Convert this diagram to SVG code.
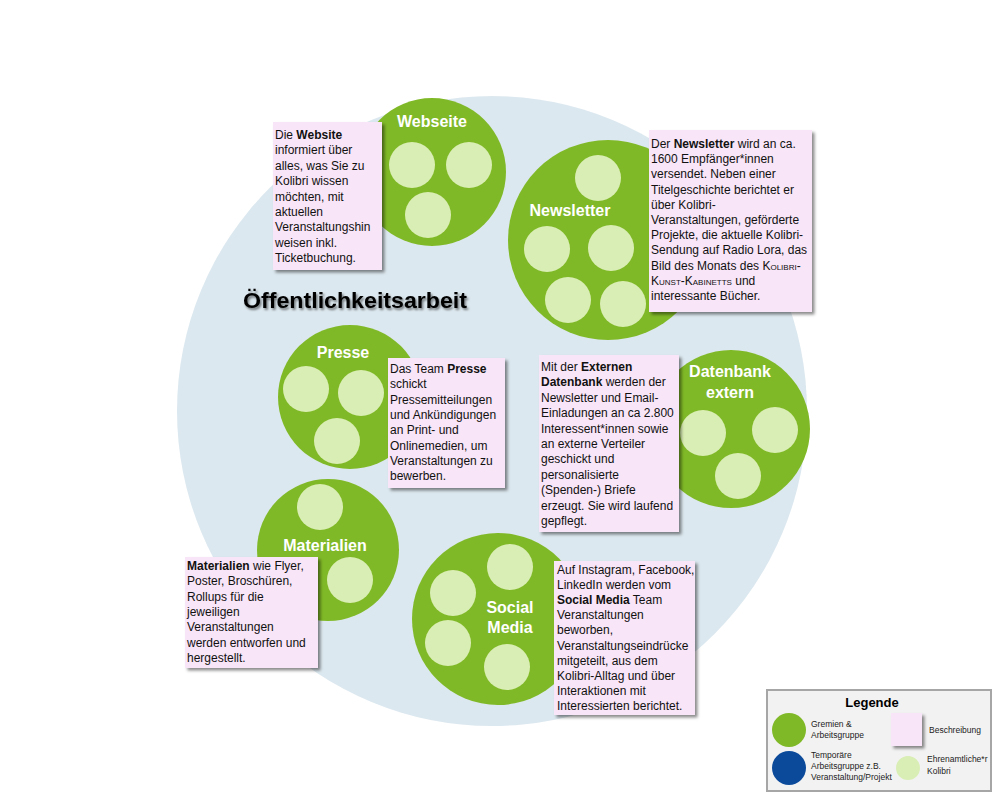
<svg xmlns="http://www.w3.org/2000/svg" width="1000" height="800" viewBox="0 0 1000 800">
<style>
.bg{fill:#dce8ef}
.grp{fill:#80b927}
.vol{fill:#d9eeb4}
.lbl{font-family:"Liberation Sans",Arial,sans-serif;font-weight:bold;font-size:16px;fill:#ffffff;text-anchor:middle}
.box{fill:#f8e5f7;filter:url(#sh)}
.t{font-family:"Liberation Sans",Arial,sans-serif;font-size:12px;fill:#111111}
.b{font-weight:bold}
.sc{font-variant:small-caps}
.lg{font-family:"Liberation Sans",Arial,sans-serif;font-size:8.5px;fill:#222222}
</style>
<defs>
<filter id="sh" x="-10%" y="-10%" width="130%" height="130%">
<feDropShadow dx="2.5" dy="2.5" stdDeviation="1.5" flood-color="#000000" flood-opacity="0.45"/>
</filter>
<filter id="tsh" x="-5%" y="-30%" width="115%" height="170%">
<feDropShadow dx="1.5" dy="2" stdDeviation="1.2" flood-color="#000000" flood-opacity="0.5"/>
</filter>
</defs>
<rect width="1000" height="800" fill="#ffffff"/>
<circle class="bg" cx="492" cy="411" r="315"/>
<text id="title" x="243" y="308" font-family="'Liberation Sans',Arial,sans-serif" font-weight="bold" font-size="22" textLength="224" lengthAdjust="spacingAndGlyphs" fill="#000000" filter="url(#tsh)">Öffentlichkeitsarbeit</text>

<g id="webseite">
<circle class="grp" cx="432" cy="172" r="74"/>
<circle class="vol" cx="412" cy="165" r="23"/>
<circle class="vol" cx="469" cy="165" r="23"/>
<circle class="vol" cx="428" cy="215" r="23"/>
<text class="lbl" x="432" y="127">Webseite</text>
</g>
<g id="newsletter">
<circle class="grp" cx="608" cy="240" r="100"/>
<circle class="vol" cx="598" cy="178" r="23"/>
<circle class="vol" cx="547" cy="249" r="23"/>
<circle class="vol" cx="611" cy="248" r="23"/>
<circle class="vol" cx="568" cy="300" r="23"/>
<circle class="vol" cx="623" cy="304" r="23"/>
<text class="lbl" x="570" y="216">Newsletter</text>
</g>
<g id="presse">
<circle class="grp" cx="350" cy="397" r="72"/>
<circle class="vol" cx="306" cy="389" r="23"/>
<circle class="vol" cx="361" cy="393" r="23"/>
<circle class="vol" cx="337" cy="441" r="23"/>
<text class="lbl" x="343" y="358">Presse</text>
</g>
<g id="datenbank">
<circle class="grp" cx="731" cy="429" r="79"/>
<circle class="vol" cx="703" cy="433" r="23"/>
<circle class="vol" cx="775" cy="430" r="23"/>
<circle class="vol" cx="738" cy="476" r="23"/>
<text class="lbl" x="730" y="377">Datenbank</text>
<text class="lbl" x="730" y="398">extern</text>
</g>
<g id="materialien">
<circle class="grp" cx="328" cy="550" r="71"/>
<circle class="vol" cx="320" cy="507" r="23"/>
<circle class="vol" cx="350" cy="580" r="23"/>
<text class="lbl" x="325" y="551">Materialien</text>
</g>
<g id="socialmedia">
<circle class="grp" cx="498" cy="619" r="86"/>
<circle class="vol" cx="510" cy="567" r="23"/>
<circle class="vol" cx="453" cy="593" r="23"/>
<circle class="vol" cx="448" cy="643" r="23"/>
<circle class="vol" cx="507" cy="667" r="23"/>
<text class="lbl" x="510" y="613">Social</text>
<text class="lbl" x="510" y="633">Media</text>
</g>

<g id="desc-webseite">
<rect class="box" x="273" y="122" width="109" height="148"/>
<text class="t" x="275" y="139">Die <tspan class="b">Website</tspan></text>
<text class="t" x="275" y="154.4">informiert über</text>
<text class="t" x="275" y="169.8">alles, was Sie zu</text>
<text class="t" x="275" y="185.2">Kolibri wissen</text>
<text class="t" x="275" y="200.6">möchten, mit</text>
<text class="t" x="275" y="216">aktuellen</text>
<text class="t" x="275" y="231.4">Veranstaltungshin</text>
<text class="t" x="275" y="246.8">weisen inkl.</text>
<text class="t" x="275" y="262.2">Ticketbuchung.</text>
</g>
<g id="desc-newsletter">
<rect class="box" x="649" y="130" width="163" height="182"/>
<text class="t" x="651" y="148">Der <tspan class="b">Newsletter</tspan> wird an ca.</text>
<text class="t" x="651" y="163.2">1600 Empfänger*innen</text>
<text class="t" x="651" y="178.4">versendet. Neben einer</text>
<text class="t" x="651" y="193.6">Titelgeschichte berichtet er</text>
<text class="t" x="651" y="208.8">über Kolibri-</text>
<text class="t" x="651" y="224">Veranstaltungen, geförderte</text>
<text class="t" x="651" y="239.2">Projekte, die aktuelle Kolibri-</text>
<text class="t" x="651" y="254.4">Sendung auf Radio Lora, das</text>
<text class="t" x="651" y="269.6">Bild des Monats des <tspan class="sc">Kolibri-</tspan></text>
<text class="t" x="651" y="284.8"><tspan class="sc">Kunst-Kabinetts</tspan> und</text>
<text class="t" x="651" y="300">interessante Bücher.</text>
</g>
<g id="desc-presse">
<rect class="box" x="388" y="358" width="117" height="130"/>
<text class="t" x="390" y="373">Das Team <tspan class="b">Presse</tspan></text>
<text class="t" x="390" y="388.3">schickt</text>
<text class="t" x="390" y="403.6">Pressemitteilungen</text>
<text class="t" x="390" y="418.9">und Ankündigungen</text>
<text class="t" x="390" y="434.2">an Print- und</text>
<text class="t" x="390" y="449.5">Onlinemedien, um</text>
<text class="t" x="390" y="464.8">Veranstaltungen zu</text>
<text class="t" x="390" y="480.1">bewerben.</text>
</g>
<g id="desc-datenbank">
<rect class="box" x="539" y="355" width="140" height="177"/>
<text class="t" x="541" y="371">Mit der <tspan class="b">Externen</tspan></text>
<text class="t" x="541" y="386.4"><tspan class="b">Datenbank</tspan> werden der</text>
<text class="t" x="541" y="401.8">Newsletter und Email-</text>
<text class="t" x="541" y="417.2">Einladungen an ca 2.800</text>
<text class="t" x="541" y="432.6">Interessent*innen sowie</text>
<text class="t" x="541" y="448">an externe Verteiler</text>
<text class="t" x="541" y="463.4">geschickt und</text>
<text class="t" x="541" y="478.8">personalisierte</text>
<text class="t" x="541" y="494.2">(Spenden-) Briefe</text>
<text class="t" x="541" y="509.6">erzeugt. Sie wird laufend</text>
<text class="t" x="541" y="525">gepflegt.</text>
</g>
<g id="desc-materialien">
<rect class="box" x="185" y="557" width="133" height="111"/>
<text class="t" x="187" y="570"><tspan class="b">Materialien</tspan> wie Flyer,</text>
<text class="t" x="187" y="585.3">Poster, Broschüren,</text>
<text class="t" x="187" y="600.6">Rollups für die</text>
<text class="t" x="187" y="615.9">jeweiligen</text>
<text class="t" x="187" y="631.2">Veranstaltungen</text>
<text class="t" x="187" y="646.5">werden entworfen und</text>
<text class="t" x="187" y="661.8">hergestellt.</text>
</g>
<g id="desc-socialmedia">
<rect class="box" x="554" y="561" width="141" height="154"/>
<text class="t" x="557" y="574">Auf Instagram, Facebook,</text>
<text class="t" x="557" y="589.1">LinkedIn werden vom</text>
<text class="t" x="557" y="604.2"><tspan class="b">Social Media</tspan> Team</text>
<text class="t" x="557" y="619.3">Veranstaltungen</text>
<text class="t" x="557" y="634.4">beworben,</text>
<text class="t" x="557" y="649.5">Veranstaltungseindrücke</text>
<text class="t" x="557" y="664.6">mitgeteilt, aus dem</text>
<text class="t" x="557" y="679.7">Kolibri-Alltag und über</text>
<text class="t" x="557" y="694.8">Interaktionen mit</text>
<text class="t" x="557" y="709.9">Interessierten berichtet.</text>
</g>

<g id="legend">
<rect x="767" y="690" width="224" height="101" fill="#f2f2f2" stroke="#a6a6a6" stroke-width="2"/>
<text x="872" y="707" text-anchor="middle" font-family="'Liberation Sans',Arial,sans-serif" font-weight="bold" font-size="13" fill="#000000">Legende</text>
<circle class="grp" cx="789" cy="730" r="17"/>
<text class="lg" x="811" y="727">Gremien &amp;</text>
<text class="lg" x="811" y="738">Arbeitsgruppe</text>
<circle cx="789" cy="768" r="17" fill="#0b4a9b"/>
<text class="lg" x="811" y="758">Temporäre</text>
<text class="lg" x="811" y="769">Arbeitsgruppe z.B.</text>
<text class="lg" x="811" y="780">Veranstaltung/Projekt</text>
<rect class="box" x="891" y="713" width="31" height="33"/>
<text class="lg" x="929" y="733">Beschreibung</text>
<circle class="vol" cx="908" cy="768" r="12"/>
<text class="lg" x="927" y="762">Ehrenamtliche*r</text>
<text class="lg" x="927" y="774">Kolibri</text>
</g>
</svg>
